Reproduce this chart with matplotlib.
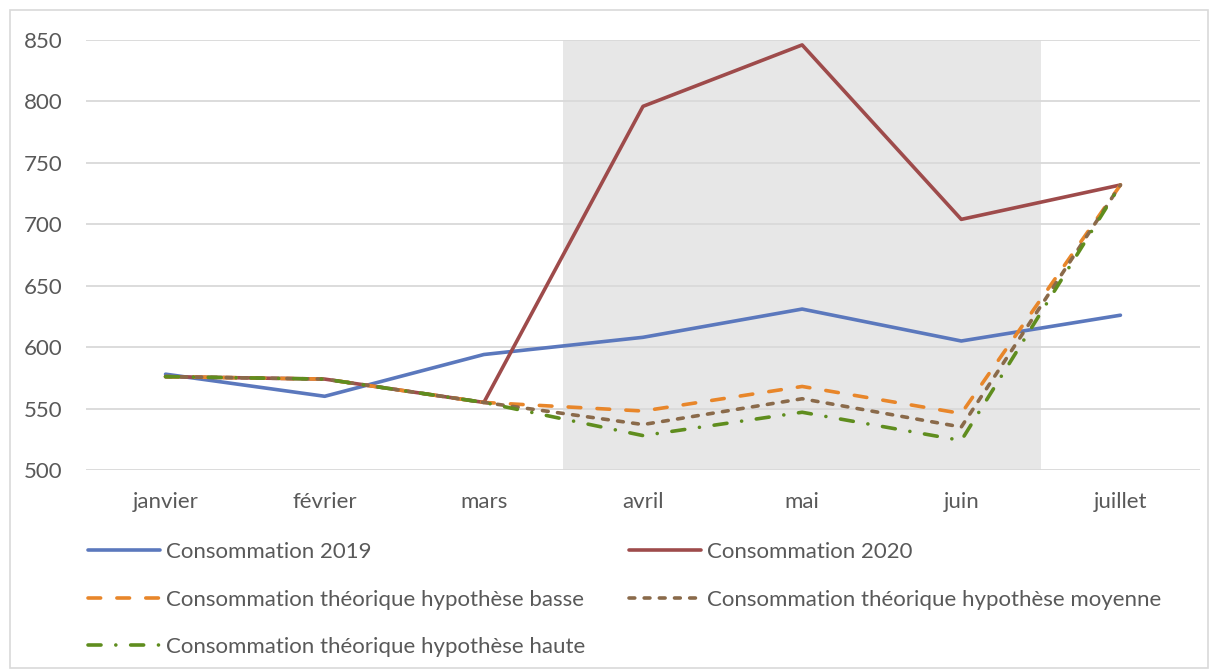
import matplotlib
matplotlib.use("Agg")
import matplotlib.pyplot as plt
from matplotlib.patches import Rectangle

months = ["janvier", "février", "mars", "avril", "mai", "juin", "juillet"]
conso_2019 = [578, 560, 594, 608, 631, 605, 626]
conso_2020 = [576, 574, 555, 796, 846, 704, 732]
hyp_basse = [576, 574, 555, 548, 568, 546, 732]
hyp_moyenne = [576, 574, 555, 537, 558, 535, 732]
hyp_haute = [576, 574, 555, 528, 547, 524, 732]
yticks = [500, 550, 600, 650, 700, 750, 800, 850]
shade_span = (2.5, 5.5)

plt.rcParams['font.family'] = ['Lato', 'DejaVu Sans']
txt = '#595959'
fs = 16

fig = plt.figure(figsize=(12.18, 6.70), dpi=100)
fig.patches.append(Rectangle((10/1218, 2/670), 1198/1218, 658/670, transform=fig.transFigure,
                             fill=False, edgecolor='#d9d9d9', linewidth=1.2))
ax = fig.add_axes([86/1218, 1-470/670, (1200-86)/1218, 430/670])
x = list(range(len(months)))
ax.axvspan(*shade_span, color='#e7e7e7', zorder=0, linewidth=0)

lw = 2.6
ax.plot(x, conso_2019, color='#5b78bd', lw=lw, solid_capstyle='round', solid_joinstyle='round',
        label='Consommation 2019', zorder=3)
ax.plot(x, conso_2020, color='#9e4b4b', lw=lw, solid_capstyle='round', solid_joinstyle='round',
        label='Consommation 2020', zorder=3)
ax.plot(x, hyp_basse, color='#e8862a', lw=lw, dashes=(3.5, 4.5), dash_capstyle='round',
        dash_joinstyle='round', label='Consommation théorique hypothèse basse', zorder=4)
ax.plot(x, hyp_moyenne, color='#8a6a4a', lw=lw, dashes=(1.6, 2.6), dash_capstyle='round',
        dash_joinstyle='round', label='Consommation théorique hypothèse moyenne', zorder=5)
ax.plot(x, hyp_haute, color='#5f8d1e', lw=lw, dashes=(3.6, 4.1, 0.01, 4.1), dash_capstyle='round',
        dash_joinstyle='round', label='Consommation théorique hypothèse haute', zorder=6)

ax.set_xlim(-0.5, len(months) - 0.5)
ax.set_ylim(yticks[0], yticks[-1])
ax.set_yticks(yticks)
ax.set_xticks(x)
ax.set_xticklabels(months)
ax.grid(axis='y', color='#d9d9d9', lw=1.3, zorder=1)
ax.set_axisbelow(True)
for s in ax.spines.values():
    s.set_visible(False)
ax.tick_params(length=0, colors=txt, labelsize=fs)
ax.tick_params(axis='y', pad=17)
ax.tick_params(axis='x', pad=16)

handles, labels = ax.get_legend_handles_labels()
order = [0, 2, 4, 1, 3]
leg = fig.legend([handles[i] for i in order], [labels[i] for i in order],
                 loc='upper left', bbox_to_anchor=(88/1218, 1-542/670), ncol=2,
                 frameon=False, fontsize=fs, handlelength=3.25, handletextpad=0.27,
                 columnspacing=1.95, labelspacing=1.24, borderpad=0, borderaxespad=0)
for t in leg.get_texts():
    t.set_color(txt)

fig.savefig('out.png', dpi=100)
